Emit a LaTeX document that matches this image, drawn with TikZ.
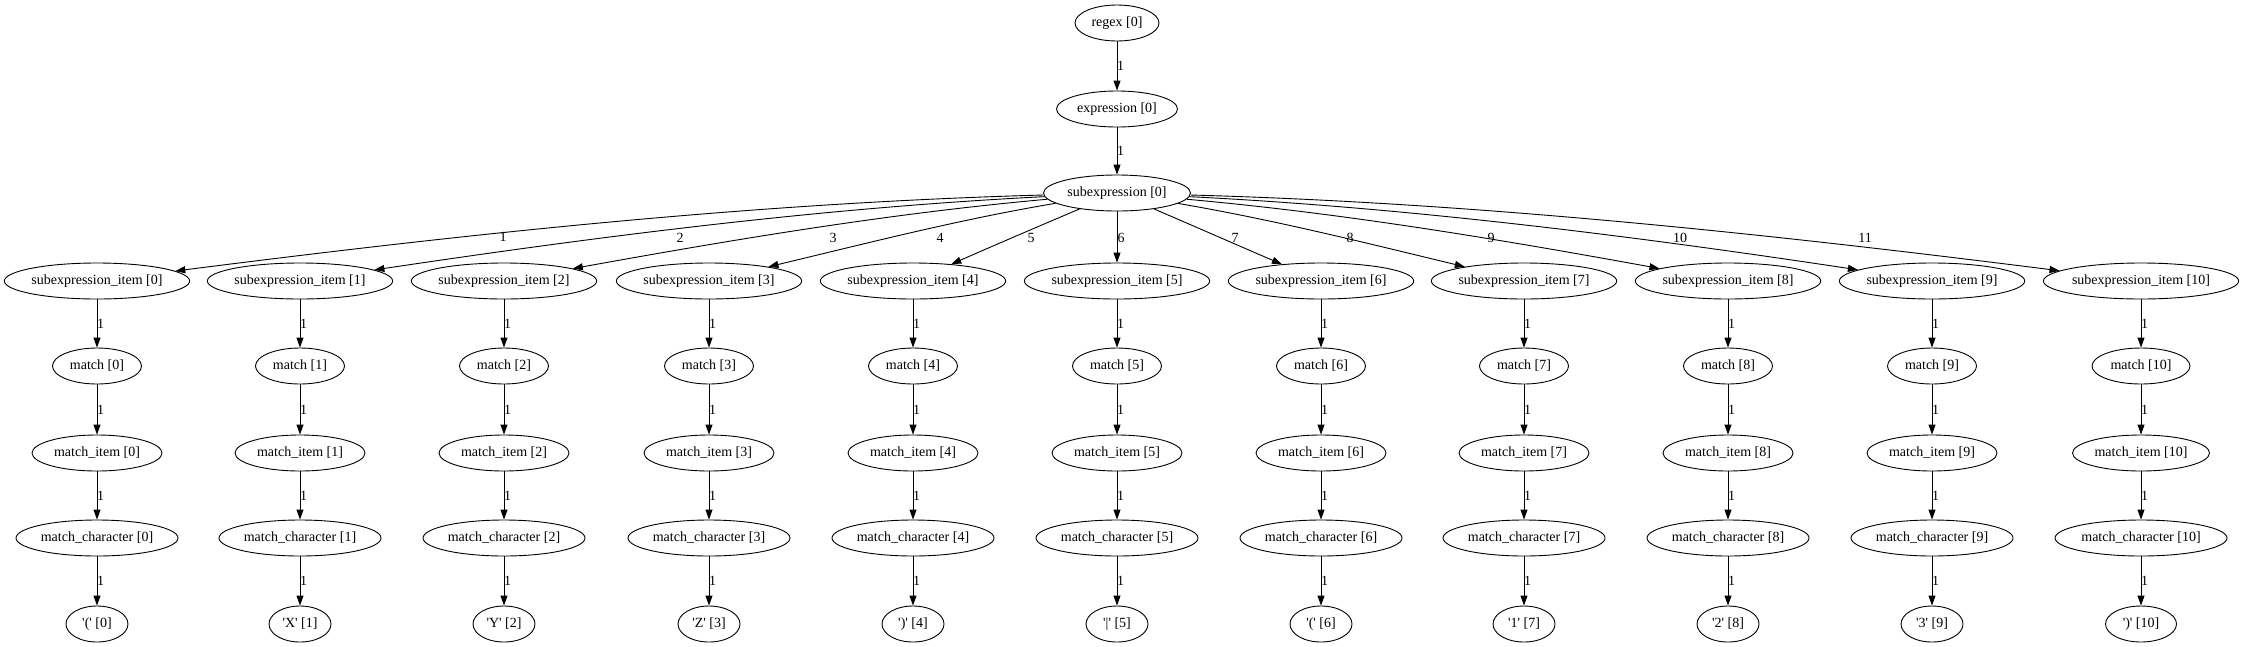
\documentclass[tikz,border=0pt]{standalone}
\usepackage{fontspec}
\newfontfamily\gvfont{Liberation Serif}
\usetikzlibrary{arrows.meta,shapes.geometric}
\tikzset{
  gv/.style={draw, ellipse, inner sep=0pt, minimum height=36pt, line width=0.9pt,
             font=\gvfont\fontsize{14}{16}\selectfont},
  el/.style={inner sep=0pt, font=\gvfont\fontsize{14}{16}\selectfont},
  arr/.style={-{Triangle[length=10pt,width=7pt]}, line width=0.9pt},
}
\begin{document}
\begin{tikzpicture}[x=1pt,y=-1pt]
\useasboundingbox (0,0) rectangle (2242,646);
% top chain
\node[gv, minimum width=84pt] (regex) at (1117,23) {regex [0]};
\node[gv, minimum width=121pt] (expr) at (1117,109) {expression [0]};
\node[gv, minimum width=147pt] (sub) at (1117,193) {subexpression [0]};
\draw[arr] (regex) -- node[el, xshift=3.5pt] (lr) {1} (expr);
\draw[arr] (expr) -- node[el, xshift=3.5pt] (le) {1} (sub);
% columns
\foreach \i/\x in {0/97,1/300,2/504,3/709,4/913,5/1117,6/1321,7/1524,8/1728,9/1932}{
  \node[gv, minimum width=185pt] (it\i) at (\x,281) {subexpression\_item [\i]};
  \node[gv, minimum width=89pt] (m\i) at (\x,366) {match [\i]};
  \node[gv, minimum width=130pt] (mi\i) at (\x,453) {match\_item [\i]};
  \node[gv, minimum width=162pt] (mc\i) at (\x,538) {match\_character [\i]};
}
\node[gv, minimum width=195pt] (it10) at (2141,281) {subexpression\_item [10]};
\node[gv, minimum width=98pt] (m10) at (2141,366) {match [10]};
\node[gv, minimum width=137pt] (mi10) at (2141,453) {match\_item [10]};
\node[gv, minimum width=172pt] (mc10) at (2141,538) {match\_character [10]};
% leaves
\node[gv, minimum width=62pt] (l0) at (97,624) {'(' [0]};
\node[gv, minimum width=62pt] (l1) at (300,624) {'X' [1]};
\node[gv, minimum width=62pt] (l2) at (504,624) {'Y' [2]};
\node[gv, minimum width=62pt] (l3) at (709,624) {'Z' [3]};
\node[gv, minimum width=62pt] (l4) at (913,624) {')' [4]};
\node[gv, minimum width=62pt] (l5) at (1117,624) {'|' [5]};
\node[gv, minimum width=62pt] (l6) at (1321,624) {'(' [6]};
\node[gv, minimum width=62pt] (l7) at (1524,624) {'1' [7]};
\node[gv, minimum width=62pt] (l8) at (1728,624) {'2' [8]};
\node[gv, minimum width=62pt] (l9) at (1932,624) {'3' [9]};
\node[gv, minimum width=71pt] (l10) at (2141,624) {')' [10]};
% column edges
\foreach \i in {0,...,10}{
  \draw[arr] (it\i) -- node[el, xshift=3.5pt] (la\i) {1} (m\i);
  \draw[arr] (m\i) -- node[el, xshift=3.5pt] (lb\i) {1} (mi\i);
  \draw[arr] (mi\i) -- node[el, xshift=3.5pt] (lc\i) {1} (mc\i);
  \draw[arr] (mc\i) -- node[el, xshift=3.5pt] (ld\i) {1} (l\i);
}
% fan-out edges
\draw[arr] (sub) .. controls (750,203) and (458,235) .. (it0);
\draw[arr] (sub) .. controls (819,208) and (595,237) .. (it1);
\draw[arr] (sub) .. controls (888,213.5) and (731,240) .. (it2);
\draw[arr] (sub) .. controls (959,219.5) and (868,243) .. (it3);
\draw[arr] (sub) .. controls (1037,227) and (995,245) .. (it4);
\draw[arr] (sub) -- (it5);
\draw[arr] (sub) .. controls (1196,227) and (1237,245) .. (it6);
\draw[arr] (sub) .. controls (1275,220) and (1366,243) .. (it7);
\draw[arr] (sub) .. controls (1346,213.5) and (1503,240) .. (it8);
\draw[arr] (sub) .. controls (1414,208) and (1640,237) .. (it9);
\draw[arr] (sub) .. controls (1483,203) and (1776,235) .. (it10);
% fan-out labels
\node[el] (f1) at (503,237) {1};
\node[el] (f2) at (680,238) {2};
\node[el] (f3) at (833,238) {3};
\node[el] (f4) at (940,238) {4};
\node[el] (f5) at (1031,238) {5};
\node[el] (f6) at (1121,238) {6};
\node[el] (f7) at (1235,238) {7};
\node[el] (f8) at (1350,238) {8};
\node[el] (f9) at (1491,238) {9};
\node[el] (f10) at (1680,238) {10};
\node[el] (f11) at (1865,238) {11};
\end{tikzpicture}
\end{document}
